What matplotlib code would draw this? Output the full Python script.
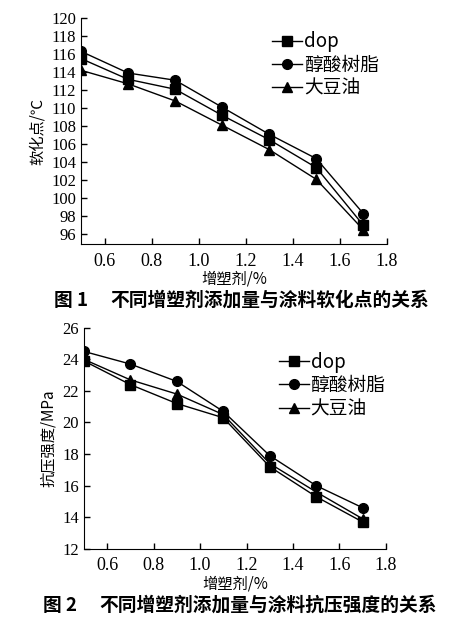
import matplotlib as mpl
import matplotlib.pyplot as plt
from matplotlib.ticker import MultipleLocator

mpl.rcParams['font.family'] = ['Liberation Serif', 'Noto Sans CJK SC']

# data
x = [0.5, 0.7, 0.9, 1.1, 1.3, 1.5, 1.7]
names = ['dop', '醇酸树脂', '大豆油']

soft_dop = [115.5, 113.2, 112.1, 109.2, 106.5, 103.4, 97.0]
soft_alkyd = [116.3, 113.9, 113.1, 110.1, 107.1, 104.4, 98.3]
soft_soy = [114.2, 112.7, 110.8, 108.1, 105.4, 102.1, 96.5]

str_dop = [23.9, 22.4, 21.2, 20.3, 17.2, 15.3, 13.7]
str_alkyd = [24.5, 23.7, 22.6, 20.7, 17.9, 16.0, 14.6]
str_soy = [24.0, 22.7, 21.8, 20.5, 17.4, 15.6, 13.9]

xticks = [0.6, 0.8, 1.0, 1.2, 1.4, 1.6, 1.8]

cjk = ['Noto Sans CJK SC', 'DejaVu Sans']
markers = ['s', 'o', '^']

fig = plt.figure(figsize=(4.53, 6.23), dpi=100)


def panel(rect, series, ylims, ystep, ylabel, legend_anchor):
    ax = fig.add_axes(rect)
    for s, m, n in zip(series, markers, names):
        ax.plot(x, s, color='black', lw=1, marker=m, ms=7, label=n)
    ax.set_xlim(0.5, 1.8)
    ax.set_ylim(*ylims)
    ax.set_xticks(xticks)
    ax.set_xticklabels(['%.1f' % v for v in xticks])
    ax.yaxis.set_major_locator(MultipleLocator(ystep))
    ax.tick_params(direction='in', length=4, labelsize=12, width=1)
    ax.tick_params(axis='x', labelsize=13, pad=6)
    for sp in ['top', 'right']:
        ax.spines[sp].set_visible(False)
    ax.set_ylabel(ylabel, family=cjk, fontsize=11, labelpad=4)
    ax.set_xlabel('增塑剂/%', family=cjk, fontsize=11, labelpad=1)
    ax.legend(loc='upper left', bbox_to_anchor=legend_anchor, frameon=False,
              handlelength=1.6, handletextpad=0.1, labelspacing=0.12,
              borderaxespad=0, prop={'family': cjk, 'size': 13.5})
    return ax


panel([0.179, 0.608, 0.675, 0.363], [soft_dop, soft_alkyd, soft_soy],
      (94.9, 120), 2, '软化点/℃', (0.6, 0.975))
panel([0.185, 0.119, 0.667, 0.355], [str_dop, str_alkyd, str_soy],
      (12, 26), 2, '抗压强度/MPa', (0.62, 0.925))

fig.text(0.12, 0.518, '图 1', family=cjk, fontsize=13.5, weight='bold', va='center')
fig.text(0.243, 0.518, '不同增塑剂添加量与涂料软化点的关系', family=cjk, fontsize=13.5,
         weight='bold', va='center')
fig.text(0.095, 0.028, '图 2', family=cjk, fontsize=13.5, weight='bold', va='center')
fig.text(0.22, 0.028, '不同增塑剂添加量与涂料抗压强度的关系', family=cjk, fontsize=13.5,
         weight='bold', va='center')

fig.savefig('out.png', dpi=100)
